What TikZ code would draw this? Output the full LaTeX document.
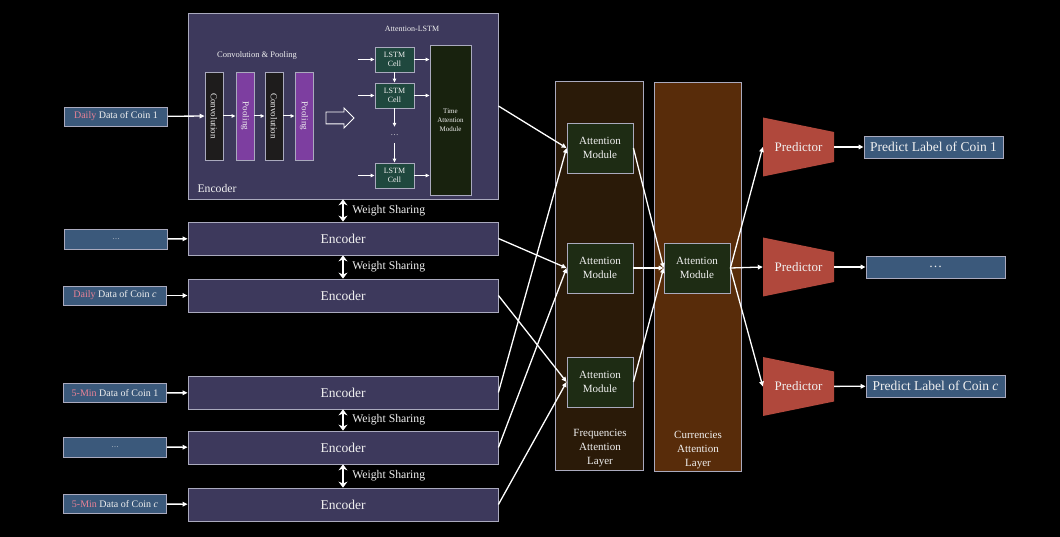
\documentclass[tikz,border=0pt]{standalone}
\usepackage{fontspec}
\setmainfont{Liberation Serif}
\usepackage{graphicx}
\usetikzlibrary{arrows.meta,positioning,calc,shapes.arrows}
\definecolor{encfill}{RGB}{61,57,92}
\definecolor{edgegray}{RGB}{170,170,190}
\definecolor{infill}{RGB}{59,89,123}
\definecolor{convfill}{RGB}{30,28,28}
\definecolor{poolfill}{RGB}{125,62,160}
\definecolor{lstmfill}{RGB}{31,72,62}
\definecolor{tamfill}{RGB}{24,34,14}
\definecolor{freqfill}{RGB}{42,26,8}
\definecolor{currfill}{RGB}{88,44,10}
\definecolor{amfill}{RGB}{30,44,20}
\definecolor{predfill}{RGB}{176,72,60}
\definecolor{pinktxt}{RGB}{232,130,150}
\definecolor{txtwhite}{RGB}{240,240,240}

\begin{document}
\begin{tikzpicture}[
  x=1pt, y=-1pt,
  box/.style={draw=edgegray, line width=0.8pt, inner sep=0pt, text=txtwhite, align=center},
  encbar/.style={box, fill=encfill, minimum width=310pt, minimum height=33pt, font=\fontsize{13.5}{15}\selectfont},
  inbox/.style={box, fill=infill, minimum width=103pt, minimum height=19pt, font=\fontsize{10}{12}\selectfont},
  outbox/.style={box, fill=infill, minimum width=139pt, minimum height=22pt, font=\fontsize{13.5}{15}\selectfont},
  convbox/.style={box, fill=convfill, minimum width=18pt, minimum height=88pt, font=\fontsize{9}{10}\selectfont},
  poolbox/.style={convbox, fill=poolfill},
  cellbox/.style={box, fill=lstmfill, minimum width=39pt, minimum height=25pt, font=\fontsize{8}{9}\selectfont},
  ambox/.style={box, fill=amfill, minimum width=66pt, minimum height=50pt, font=\fontsize{11}{14}\selectfont},
  layerbox/.style={box, minimum width=88pt, minimum height=389pt},
  layerlabel/.style={text=txtwhite, align=center, font=\fontsize{11}{14}\selectfont},
  smalllabel/.style={text=txtwhite, font=\fontsize{8.5}{10}\selectfont},
  predbox/.style={fill=black, minimum width=71pt, minimum height=59pt, inner sep=0pt, text=txtwhite, font=\fontsize{13}{15}\selectfont,
    path picture={\fill[predfill] (path picture bounding box.north west) -- ($(path picture bounding box.north east)+(0,14.5)$)
      -- ($(path picture bounding box.south east)+(0,-14.5)$) -- (path picture bounding box.south west) -- cycle;}},
  arr/.style={-{Triangle[length=5pt,width=4.5pt]}, line width=1.3pt, draw=white},
  thinarr/.style={-{Triangle[length=4pt,width=3.5pt]}, line width=1pt, draw=white},
  wsarrow/.style={{Stealth[length=6pt,width=9pt]}-{Stealth[length=6pt,width=9pt]}, line width=2pt, draw=white},
  wslabel/.style={text=txtwhite, font=\fontsize{11.7}{13}\selectfont}
]
\fill[black] (0,0) rectangle (1060,537);
\useasboundingbox (0,0) rectangle (1060,537);

% attention layers
\node[layerbox, fill=freqfill] (freq) at (599.5,275.5) {};
\node[layerbox, fill=currfill, minimum width=87pt] (curr) at (697.5,276.5) {};
\node[layerlabel] (freqlab) at (600,448) {Frequencies\\Attention\\Layer};
\node[layerlabel] (currlab) at (698,450) {Currencies\\Attention\\Layer};

% encoders
\node[encbar, minimum height=186pt] (enc1) at (343,106) {};
\node[encbar] (enc2) at (343,238.5) {Encoder};
\node[encbar] (enc3) at (343,295.5) {Encoder};
\node[encbar] (enc4) at (343,392.5) {Encoder};
\node[encbar] (enc5) at (343,447.5) {Encoder};
\node[encbar] (enc6) at (343,504.5) {Encoder};

% inside the first encoder
\node[text=txtwhite, anchor=west, font=\fontsize{11.7}{13}\selectfont] (enclab) at (194,188) {Encoder};
\node[smalllabel] (cplab) at (257,55) {Convolution \& Pooling};
\node[smalllabel, font=\fontsize{8}{10}\selectfont] (alab) at (412,29) {Attention-LSTM};
\node[convbox] (conv1) at (214,116) {\rotatebox{-90}{Convolution}};
\node[poolbox] (pool1) at (245,116) {\rotatebox{-90}{Pooling}};
\node[convbox] (conv2) at (274,116) {\rotatebox{-90}{Convolution}};
\node[poolbox] (pool2) at (304,116) {\rotatebox{-90}{Pooling}};
\node[single arrow, draw=white, line width=0.9pt, fill=encfill, minimum height=28pt, minimum width=19pt,
  single arrow head extend=4pt, inner sep=5.5pt] (fat) at (337,118) {};
\node[cellbox] (cell1) at (394.5,59.5) {LSTM\\Cell};
\node[cellbox] (cell2) at (394.5,95.5) {LSTM\\Cell};
\node[text=txtwhite, minimum height=16pt, inner sep=0pt, font=\fontsize{8}{9}\selectfont] (cdots) at (394.5,135) {\dots};
\node[cellbox] (cell3) at (394.5,175.5) {LSTM\\Cell};
\node[box, fill=tamfill, minimum width=41pt, minimum height=150pt, font=\fontsize{7}{9}\selectfont] (tam) at (450.5,120) {Time\\Attention\\Module};
\coordinate (s1) at (358,59.5);
\coordinate (s2) at (358,95.5);
\coordinate (s3) at (358,175.5);

% inputs
\node[inbox] (in1) at (116,116.5) {\textcolor{pinktxt}{Daily} Data of Coin 1};
\node[inbox, minimum height=20pt] (in2) at (116,239) {\fontsize{7}{8}\selectfont\dots};
\node[inbox] (in3) at (115,295.5) {\textcolor{pinktxt}{Daily} Data of Coin \textit{c}};
\node[inbox] (in4) at (115,393) {\textcolor{pinktxt}{5-Min} Data of Coin 1};
\node[inbox, minimum height=20pt] (in5) at (115,447) {\fontsize{7}{8}\selectfont\dots};
\node[inbox] (in6) at (115,504) {\textcolor{pinktxt}{5-Min} Data of Coin \textit{c}};

% attention modules
\node[ambox] (am1) at (600,148) {Attention\\Module};
\node[ambox] (am2) at (600,268) {Attention\\Module};
\node[ambox] (am3) at (600,382) {Attention\\Module};
\node[ambox] (cam) at (697,268) {Attention\\Module};

% predictors and outputs
\node[predbox] (pr1) at (798.5,147) {Predictor};
\node[predbox] (pr2) at (798.5,267) {Predictor};
\node[predbox] (pr3) at (798.5,386.5) {Predictor};
\node[outbox] (out1) at (933.5,147) {Predict Label of Coin 1};
\node[outbox] (out2) at (935.5,267) {\dots};
\node[outbox] (out3) at (935.5,386) {Predict Label of Coin \textit{c}};

% connectors
\draw[arr] (in1) -- (conv1);
\draw[thinarr] (conv1) -- (pool1);
\draw[thinarr] (pool1) -- (conv2);
\draw[thinarr] (conv2) -- (pool2);
\draw[thinarr] (s1) -- (cell1);
\draw[thinarr] (s2) -- (cell2);
\draw[thinarr] (s3) -- (cell3);
\draw[thinarr] (cell1) -- (cell2);
\draw[thinarr] (cell2) -- (cdots);
\draw[thinarr] (cdots) -- (cell3);
\draw[thinarr] (cell1.east) -- (cell1.east -| tam.west);
\draw[thinarr] (cell2.east) -- (cell2.east -| tam.west);
\draw[thinarr] (cell3.east) -- (cell3.east -| tam.west);
\draw[arr] (in2) -- (enc2);
\draw[arr] (in3) -- (enc3);
\draw[arr] (in4) -- (enc4);
\draw[arr] (in5) -- (enc5);
\draw[arr] (in6) -- (enc6);
\draw[wsarrow] (enc1) -- (enc2) node[midway, right=5pt, wslabel] {Weight Sharing};
\draw[wsarrow] (enc2) -- (enc3) node[midway, right=5pt, wslabel] {Weight Sharing};
\draw[wsarrow] (enc4) -- (enc5) node[midway, right=5pt, wslabel] {Weight Sharing};
\draw[wsarrow] (enc5) -- (enc6) node[midway, right=5pt, wslabel] {Weight Sharing};
\draw[arr] (enc1.east) -- (am1.west);
\draw[arr] (enc2.east) -- (am2.west);
\draw[arr] (enc3.east) -- (am3.west);
\draw[arr] (enc4.east) -- (am1.west);
\draw[arr] (enc5.east) -- (am2.west);
\draw[arr] (enc6.east) -- (am3.west);
\draw[arr] (am1.east) -- (cam.west);
\draw[arr] (am2.east) -- (cam.west);
\draw[arr] (am3.east) -- (cam.west);
\draw[arr] (cam.east) -- (pr1.west);
\draw[arr] (cam.east) -- (pr2.west);
\draw[arr] (cam.east) -- (pr3.west);
\draw[arr] (pr1) -- (out1);
\draw[arr] (pr2) -- (out2);
\draw[arr] (pr3) -- (out3);
\end{tikzpicture}
\end{document}
